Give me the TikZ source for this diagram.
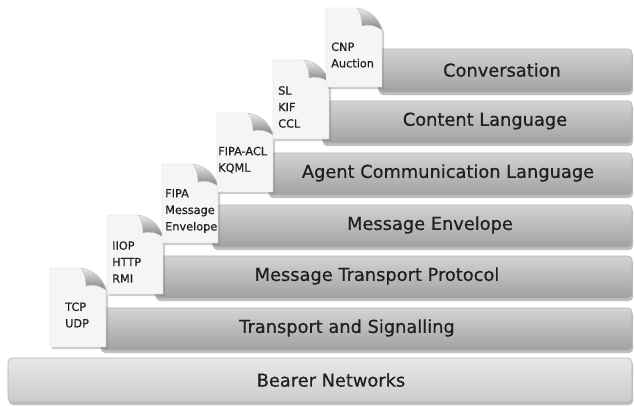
\documentclass[tikz,border=0pt]{standalone}
\usepackage{fontspec}
\setmainfont{DejaVu Sans}
\newfontfamily\layerfont[FakeBold=0.6]{DejaVu Sans}
\usetikzlibrary{shadows}
\begin{document}
\begin{tikzpicture}[x=1pt,y=-1pt,
  bar/.style={rounded corners=4pt, top color=black!17, bottom color=black!37,
    draw=black!30, line width=0.6pt,
    drop shadow={shadow xshift=1pt, shadow yshift=-3pt, opacity=0.5}},
  basebar/.style={bar, top color=black!9, bottom color=black!20},
  barlabel/.style={font=\layerfont\fontsize{17.8}{20}\selectfont, text=black!88},
  sheet/.style={fill=black!4, draw=black!18, line width=0.4pt,
    drop shadow={shadow xshift=2pt, shadow yshift=-2pt, opacity=0.4}},
  fold/.style={top color=black!8, bottom color=black!50, draw=black!25, line width=0.3pt},
  sheetlabel/.style={font=\layerfont\fontsize{11.3}{16.5}\selectfont, align=left,
    anchor=west, inner sep=0pt, text=black!88}]
\useasboundingbox (0,0) rectangle (634,405);
% layers
\path[basebar] (8,358) rectangle (632,402);
\node[barlabel] (bearer) at (331,380) {Bearer Networks};
\path[bar] (100,308) rectangle (632,350);
\node[barlabel] (transport) at (347,328) {Transport and Signalling};
\path[bar] (155,256) rectangle (632,298);
\node[barlabel] (mtp) at (377,276) {Message Transport Protocol};
\path[bar] (212,205) rectangle (632,247);
\node[barlabel] (envelope) at (430,225) {Message Envelope};
\path[bar] (268,153) rectangle (632,195);
\node[barlabel] (acl) at (448,173) {Agent Communication Language};
\path[bar] (322,101) rectangle (632,143);
\node[barlabel] (content) at (485,121) {Content Language};
\path[bar] (378,49) rectangle (632,92);
\node[barlabel] (conversation) at (502,70) {Conversation};
% documents
\foreach \x/\y/\dx/\nm/\txt in {50/268/15/tcp/{TCP\\UDP},
    107/215/5/iiop/{IIOP\\HTTP\\RMI},
    162/164/3/fipa/{FIPA\\Message\\Envelope},
    217/113/1/fipaacl/{FIPA-ACL\\KQML},
    273/60/5/sl/{SL\\KIF\\CCL},
    326/8/5/cnp/{CNP\\Auction}} {
  \path[sheet] (\x,\y) -- (\x+31,\y)
    .. controls (\x+44,\y+2) and (\x+52,\y+10) .. (\x+56,\y+22)
    -- (\x+56,\y+79) -- (\x,\y+79) -- cycle;
  \path[fold] (\x+31,\y) .. controls (\x+44,\y+2) and (\x+52,\y+10) .. (\x+56,\y+22)
    .. controls (\x+49,\y+17) and (\x+41,\y+16) .. (\x+36,\y+18)
    .. controls (\x+36,\y+10) and (\x+34,\y+4) .. (\x+31,\y) -- cycle;
  \node[sheetlabel] (\nm) at (\x+\dx,\y+47) {\txt};
}
\end{tikzpicture}
\end{document}
